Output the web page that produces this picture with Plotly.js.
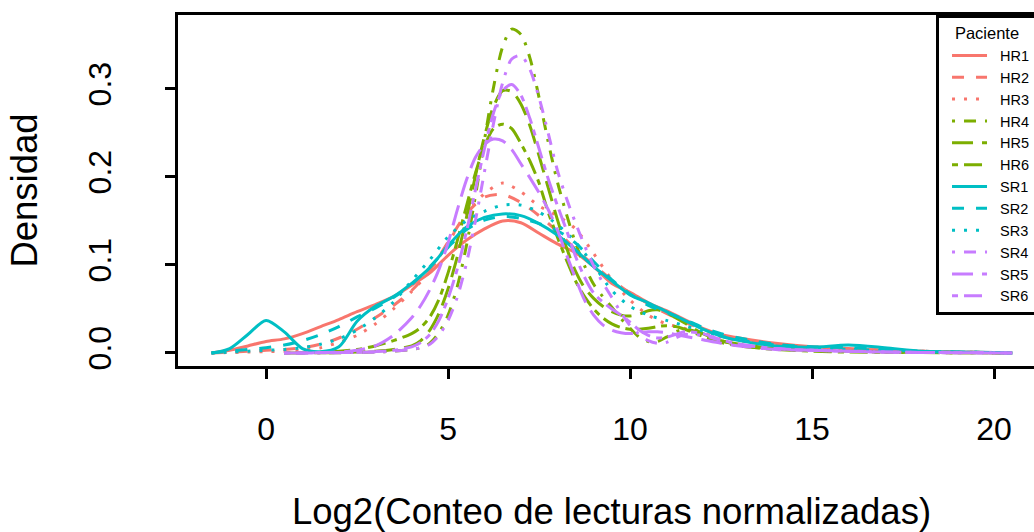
<!DOCTYPE html>
<html>
<head>
<meta charset="utf-8">
<script src="https://cdn.plot.ly/plotly-3.0.1.min.js"></script>
<style>
html, body { margin: 0; padding: 0; overflow: hidden; background: #fff; }
#chart { width: 1100px; height: 532px; }
</style>
</head>
<body>
<div id="chart"></div>
<script>
// Grid for the broad (HR1-3, SR1-3) density curves
const xBroad = [-1.5,-1,-0.5,0,0.5,1,1.5,2,2.5,3,3.5,4,4.5,5,5.5,6,6.5,7,7.5,8,8.5,9,9.5,10,10.5,11,11.5,12,12.5,13,14,15,16,17,18,19,20,20.5];
// Grid for the narrow (HR4-6, SR4-6) density curves
const xNarrow = [0.5,1,1.5,2,2.5,3,3.5,4,4.25,4.5,4.75,5,5.25,5.5,5.75,6,6.25,6.5,6.75,7,7.25,7.5,7.75,8,8.25,8.5,8.75,9,9.25,9.5,9.75,10,10.25,10.5,10.75,11,11.25,11.5,12,12.5,13,14,15,16,17,18,19,20,20.5];

const hr1 = [0,0.003,0.008,0.013,0.016,0.022,0.030,0.038,0.047,0.055,0.064,0.077,0.091,0.111,0.128,0.141,0.150,0.148,0.136,0.124,0.114,0.098,0.079,0.069,0.057,0.048,0.038,0.028,0.021,0.017,0.011,0.007,0.005,0.003,0.002,0.001,0.0005,0];
const hr2 = [0,0.001,0.002,0.003,0.004,0.006,0.010,0.017,0.027,0.040,0.054,0.071,0.094,0.126,0.158,0.177,0.180,0.171,0.156,0.138,0.118,0.100,0.083,0.068,0.056,0.045,0.035,0.027,0.020,0.015,0.009,0.006,0.004,0.003,0.002,0.001,0.0005,0];
const hr3 = [0,0.0005,0.001,0.0015,0.002,0.003,0.006,0.012,0.020,0.033,0.050,0.070,0.093,0.125,0.158,0.181,0.193,0.183,0.167,0.156,0.141,0.113,0.083,0.060,0.043,0.033,0.028,0.022,0.018,0.014,0.009,0.006,0.004,0.003,0.002,0.001,0.0005,0];
const hr4 = [0,0.0001,0.0002,0.0003,0.0005,0.001,0.002,0.004,0.006,0.011,0.023,0.043,0.075,0.121,0.178,0.242,0.302,0.348,0.368,0.362,0.335,0.290,0.240,0.195,0.158,0.125,0.099,0.078,0.064,0.052,0.039,0.028,0.018,0.013,0.013,0.018,0.024,0.027,0.022,0.014,0.009,0.005,0.003,0.002,0.001,0.0006,0.0003,0.0001,0];
const hr5 = [0,0.0001,0.0003,0.0005,0.001,0.002,0.004,0.008,0.014,0.026,0.045,0.073,0.109,0.153,0.201,0.246,0.280,0.298,0.297,0.283,0.258,0.224,0.188,0.152,0.120,0.093,0.074,0.062,0.053,0.047,0.043,0.042,0.044,0.048,0.049,0.046,0.040,0.034,0.022,0.014,0.010,0.005,0.003,0.002,0.001,0.0006,0.0003,0.0001,0];
const hr6 = [0,0.0005,0.001,0.002,0.004,0.008,0.014,0.022,0.029,0.041,0.061,0.091,0.127,0.166,0.204,0.235,0.255,0.260,0.255,0.238,0.218,0.193,0.160,0.132,0.106,0.082,0.064,0.050,0.040,0.033,0.029,0.027,0.027,0.028,0.030,0.031,0.030,0.027,0.019,0.012,0.008,0.004,0.002,0.001,0.0007,0.0004,0.0002,0.0001,0];
const sr1 = [0,0.005,0.021,0.037,0.024,0.005,0.0015,0.007,0.036,0.053,0.064,0.079,0.097,0.122,0.143,0.154,0.158,0.156,0.147,0.134,0.117,0.098,0.082,0.066,0.057,0.047,0.037,0.027,0.019,0.014,0.008,0.0065,0.009,0.006,0.002,0.001,0.0005,0];
const sr2 = [0,0.002,0.004,0.006,0.009,0.014,0.021,0.030,0.041,0.051,0.063,0.078,0.098,0.120,0.140,0.151,0.155,0.153,0.147,0.139,0.125,0.104,0.083,0.067,0.054,0.046,0.038,0.029,0.022,0.017,0.010,0.007,0.006,0.004,0.002,0.001,0.0005,0];
const sr3 = [0,0.001,0.002,0.003,0.004,0.006,0.010,0.016,0.026,0.040,0.058,0.082,0.106,0.132,0.150,0.161,0.168,0.168,0.160,0.146,0.126,0.100,0.071,0.053,0.043,0.037,0.031,0.025,0.019,0.015,0.009,0.006,0.004,0.003,0.002,0.001,0.0005,0];
const sr4 = [0,0,0.0001,0.0003,0.0005,0.001,0.002,0.004,0.006,0.010,0.020,0.037,0.063,0.101,0.150,0.206,0.261,0.307,0.334,0.338,0.322,0.290,0.250,0.208,0.176,0.148,0.122,0.099,0.080,0.063,0.046,0.031,0.021,0.014,0.011,0.012,0.017,0.021,0.020,0.014,0.010,0.005,0.003,0.002,0.001,0.0006,0.0003,0.0001,0];
const sr5 = [0,0,0.0005,0.001,0.003,0.008,0.020,0.040,0.054,0.072,0.095,0.125,0.162,0.196,0.222,0.237,0.243,0.241,0.231,0.215,0.199,0.182,0.163,0.140,0.112,0.085,0.060,0.043,0.032,0.026,0.023,0.022,0.023,0.024,0.024,0.023,0.021,0.019,0.015,0.011,0.008,0.004,0.003,0.002,0.001,0.0006,0.0003,0.0001,0];
const sr6 = [0,0,0.0002,0.0004,0.0008,0.0015,0.003,0.007,0.012,0.021,0.037,0.062,0.095,0.137,0.185,0.232,0.273,0.298,0.305,0.293,0.266,0.232,0.198,0.168,0.140,0.110,0.086,0.068,0.058,0.050,0.043,0.035,0.026,0.020,0.017,0.018,0.021,0.024,0.022,0.015,0.010,0.005,0.003,0.002,0.001,0.0006,0.0003,0.0001,0];

const seriesNames = ["HR1","HR2","HR3","HR4","HR5","HR6","SR1","SR2","SR3","SR4","SR5","SR6"];
const seriesY = [hr1,hr2,hr3,hr4,hr5,hr6,sr1,sr2,sr3,sr4,sr5,sr6];
const seriesX = [xBroad,xBroad,xBroad,xNarrow,xNarrow,xNarrow,xBroad,xBroad,xBroad,xNarrow,xNarrow,xNarrow];
const yTicks = [0,0.1,0.2,0.3];
const yTickText = ["0.0","0.1","0.2","0.3"];
const xTicks = [0,5,10,15,20];

const colors = ["#F8766D","#F8766D","#F8766D","#7CAE00","#7CAE00","#7CAE00","#00BFC4","#00BFC4","#00BFC4","#C77CFF","#C77CFF","#C77CFF"];
const dashes = ["solid","12px,12px","3px,9px","3px,9px,12px,9px","21px,9px","6px,6px,18px,6px",
                "solid","12px,12px","3px,9px","3px,9px,12px,9px","21px,9px","6px,6px,18px,6px"];

const FONT = "Liberation Sans, Arial, Helvetica, sans-serif";
const NB = "\u00A0\u00A0";

const traces = seriesNames.map((n, i) => ({
  type: "scatter", mode: "lines", name: NB + n,
  x: seriesX[i], y: seriesY[i],
  line: {color: colors[i], width: 3, dash: dashes[i], shape: "spline", smoothing: 0.8},
  hoverinfo: "skip"
}));

const layout = {
  width: 1100, height: 532,
  margin: {l: 178, r: 55, t: 15, b: 166},
  paper_bgcolor: "#fff", plot_bgcolor: "#fff",
  font: {family: FONT, color: "#000"},
  showlegend: true,
  legend: {
    x: 0.8743, xanchor: "left", y: 1, yanchor: "top",
    bgcolor: "#fff", bordercolor: "#000", borderwidth: 3,
    font: {family: FONT, size: 14.5, color: "#000"},
    title: {text: "Paciente", side: "top center", font: {family: FONT, size: 16.5, color: "#000"}},
    itemwidth: 35,
    indentation: 8
  },
  xaxis: {
    range: [-2.42, 21.4], tickvals: xTicks, ticktext: xTicks.map(String),
    showgrid: false, zeroline: false,
    showline: true, mirror: true, linecolor: "#000", linewidth: 3,
    ticks: "outside", ticklen: 10, tickwidth: 3, tickcolor: "#000",
    ticklabelstandoff: 23,
    tickfont: {family: FONT, size: 32, color: "#000"},
    title: {text: "Log2(Conteo de lecturas normalizadas)", font: {family: FONT, size: 36.5, color: "#000"}, standoff: 73}
  },
  yaxis: {
    range: [-0.0148, 0.384], tickvals: yTicks, ticktext: yTickText, tickangle: -90,
    showgrid: false, zeroline: false,
    showline: true, mirror: true, linecolor: "#000", linewidth: 3,
    ticks: "outside", ticklen: 10, tickwidth: 3, tickcolor: "#000",
    ticklabelstandoff: 41,
    tickfont: {family: FONT, size: 32, color: "#000"},
    title: {text: "Densidad", font: {family: FONT, size: 36.5, color: "#000"}, standoff: 34}
  }
};

Plotly.newPlot("chart", traces, layout, {staticPlot: true, displayModeBar: false});
</script>
</body>
</html>
